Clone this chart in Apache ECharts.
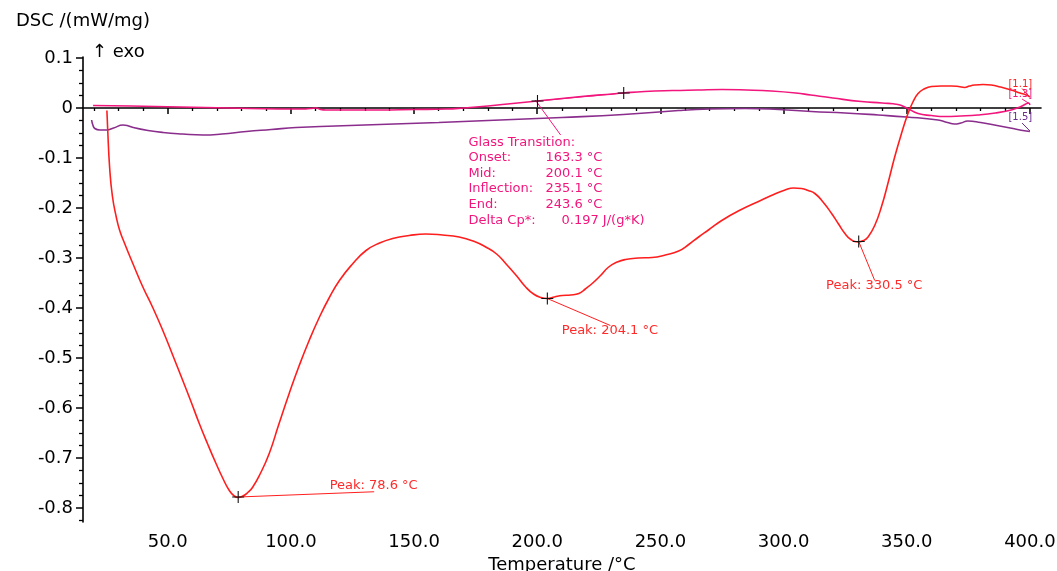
<!DOCTYPE html>
<html><head><meta charset="utf-8">
<script src="https://cdn.jsdelivr.net/npm/echarts@6/dist/echarts.min.js"></script>
<style>html,body{margin:0;padding:0;background:#fff}#c{width:1057px;height:571px}</style>
</head><body><div id="c"></div>
<script>
// ---- data (temperature °C, DSC mW/mg) ----
const redCurve = [
 [25.3,-0.005],[25.6,-0.04],[26.4,-0.118],[27.5,-0.175],[29.1,-0.218],[30.5,-0.245],[32.5,-0.271],
 [36,-0.313],[39.9,-0.358],[44,-0.400],[48.0,-0.445],[52,-0.494],[56.1,-0.545],[59.5,-0.588],
 [62.8,-0.631],[66.2,-0.672],[69.6,-0.711],[72.5,-0.742],[75.0,-0.765],[77,-0.776],[78.6,-0.779],
 [80.5,-0.776],[82.5,-0.769],[84.4,-0.759],[87.5,-0.732],[91.2,-0.691],[95,-0.634],[99.3,-0.571],
 [103.3,-0.516],[107.4,-0.465],[111.6,-0.418],[115.5,-0.380],[119.7,-0.345],[125,-0.312],[130.5,-0.285],
 [136,-0.270],[141.3,-0.261],[148,-0.255],[154.8,-0.252],[161.5,-0.254],[168.3,-0.258],[174,-0.266],
 [179.1,-0.278],[183.5,-0.292],[187.2,-0.311],[191.5,-0.335],[195.3,-0.358],[198.5,-0.372],[201.5,-0.379],
 [204.1,-0.381],[207,-0.378],[210.1,-0.375],[213.5,-0.374],[216.9,-0.371],[219.5,-0.362],[222.3,-0.351],
 [225.5,-0.336],[229.0,-0.318],[232.5,-0.308],[235.8,-0.303],[241,-0.300],[246.6,-0.299],[252,-0.294],
 [257.4,-0.286],[261.5,-0.273],[265.5,-0.258],[269.5,-0.244],[274.9,-0.225],[282,-0.205],[291.1,-0.184],
 [296,-0.173],[300.6,-0.164],[304,-0.160],[307.3,-0.161],[310,-0.165],[312.7,-0.171],[316,-0.188],
 [319.5,-0.211],[322.3,-0.232],[324.9,-0.251],[327.3,-0.263],[330.0,-0.268],[332.5,-0.265],[334.3,-0.258],
 [337,-0.235],[339.7,-0.198],[342.4,-0.150],[345.1,-0.098],[347.8,-0.052],[350.5,-0.011],[352.5,0.012],
 [354.6,0.029],[357,0.038],[360,0.043],[364,0.044],[368.1,0.044],[371,0.043],[373.5,0.041],[375.5,0.044],
 [377.5,0.046],[381,0.047],[384.3,0.046],[388,0.042],[392.4,0.036],[396,0.030],[398.5,0.026],[400,0.022]
];
const pinkCurve = [
 [19.7,0.005],[35,0.004],[55,0.002],[75,0.0],[95,-0.002],[105,-0.002],[108,-0.001],[110.2,0.0],
 [112,-0.003],[114.3,-0.004],[125,-0.004],[136,-0.004],[150,-0.003],[163,-0.002],[170,0.0],[180,0.004],
 [190,0.009],[200.1,0.014],[210,0.019],[220,0.024],[228,0.027],[235.1,0.030],[243.6,0.033],[255,0.035],
 [265,0.036],[275,0.037],[285,0.036],[295,0.034],[305,0.030],[311,0.026],[320,0.020],[331.6,0.013],
 [340,0.010],[346.4,0.007],[350,0.0],[354.6,-0.011],[360,-0.015],[365.4,-0.017],[372,-0.016],
 [378.9,-0.014],[386,-0.010],[392.4,-0.004],[396,0.002],[398.3,0.008],[399.5,0.010],[400,0.006]
];
const purpleCurve = [
 [19.1,-0.024],[19.6,-0.034],[20.4,-0.041],[22.5,-0.044],[25.2,-0.044],[28,-0.040],[31.9,-0.034],
 [33.5,-0.035],[36,-0.039],[42,-0.045],[48.1,-0.049],[56,-0.052],[64.3,-0.054],[72,-0.052],[81.9,-0.047],
 [92,-0.043],[102.1,-0.039],[118,-0.036],[135.9,-0.033],[160,-0.029],[185,-0.024],[210,-0.019],
 [235,-0.013],[257.4,-0.005],[270,-0.002],[284.4,-0.001],[298,-0.003],[311.3,-0.007],[325,-0.010],
 [338.4,-0.014],[350,-0.018],[362.7,-0.024],[366.5,-0.029],[369.4,-0.032],[372,-0.030],[374.8,-0.026],
 [380,-0.029],[385.6,-0.034],[392,-0.040],[398.5,-0.046],[400,-0.047]
];
const xMajorTicks = [50,100,150,200,250,300,350,400];
const xMinorTicks = [20,30,40,60,70,80,90,110,120,130,140,160,170,180,190,210,220,230,240,260,270,280,290,310,320,330,340,360,370,380,390];
const yMajorTicks = [-0.8,-0.7,-0.6,-0.5,-0.4,-0.3,-0.2,-0.1,0,0.1];
const yMinorTicks = [];
for (let i = -33; i <= 4; i++) { if (i % 4 !== 0) yMinorTicks.push(i * 0.025); }

// annotations: cross position, leader end, label text
const peakMarks = [
 {at:[78.6,-0.778], end:[133.8,-0.7675], text:'Peak: 78.6 °C', anchor:'bottom'},
 {at:[204.1,-0.381], end:[229.7,-0.435], text:'Peak: 204.1 °C', anchor:'top'},
 {at:[330.5,-0.267], end:[337.0,-0.345], text:'Peak: 330.5 °C', anchor:'top'}
];
const glassMarks = [[200.1,0.014],[235.1,0.030]];
const glassLeader = [[199.2,0.016],[209.5,-0.054]];
const glassTextAt = [172.3,-0.054];
const glassRows = [['Onset:','163.3 °C'],['Mid:','200.1 °C'],['Inflection:','235.1 °C'],['End:','243.6 °C']];
const glassDelta = ['Delta Cp*:','0.197 J/(g*K)'];
const curveTags = [
 {text:'[1.1]', at:[396.3,0.047], lead:[[396.8,0.039],[400,0.022]]},
 {text:'[1.3]', at:[396.3,0.026], lead:[[396.8,0.018],[400,0.008]]},
 {text:'[1.5]', at:[396.3,-0.020], lead:[[396.8,-0.030],[400,-0.046]]}
];

const RED = '#ff1e1e', PINK = '#f2157c', PURPLE = '#8a2d8c';
const FONT = 'DejaVu Sans';
const CROSS = 'path://M0,4.55H10V5.45H0Z M4.55,0H5.45V10H4.55Z';

function cross(c){ return {coord:c, symbol:CROSS, symbolSize:12, itemStyle:{color:'#111'}, label:{show:false}}; }
function textPt(c, text, color, opts){
  return Object.assign({coord:c, symbol:'circle', symbolSize:1, itemStyle:{color:'rgba(0,0,0,0)'},
    label:Object.assign({show:true, formatter:text, color:color, fontFamily:FONT, fontSize:13}, opts)});
}
function seg(a,b,color){ return [{coord:a, lineStyle:{color:color,width:1,type:'solid'}},{coord:b}]; }

const glassText = ['{h|Glass Transition:}']
  .concat(glassRows.map(r => '{k|' + r[0] + '}{v|' + r[1] + '}'))
  .concat(['{k2|' + glassDelta[0] + '}{v|' + glassDelta[1] + '}']).join('\n');

const redMarkPts = peakMarks.map(p => cross(p.at)).concat(peakMarks.map(p =>
  textPt(p.end, p.text, '#ff2a2a', {position:[0, p.anchor==='bottom'?1:-1], align:'center', verticalAlign:p.anchor==='bottom'?'bottom':'top'})));
redMarkPts.push(textPt(curveTags[0].at, curveTags[0].text, RED, {position:[0,0], align:'center', verticalAlign:'middle', fontSize:10}));

const pinkMarkPts = glassMarks.map(cross);
pinkMarkPts.push(textPt(glassTextAt, glassText, PINK, {position:[0,0], align:'left', verticalAlign:'top', lineHeight:15.6,
  rich:{h:{color:PINK,fontFamily:FONT,fontSize:13,lineHeight:15.6},
        k:{color:PINK,fontFamily:FONT,fontSize:13,width:77,lineHeight:15.6},
        k2:{color:PINK,fontFamily:FONT,fontSize:13,width:93,lineHeight:15.6},
        v:{color:PINK,fontFamily:FONT,fontSize:13,lineHeight:15.6}}}));
pinkMarkPts.push(textPt(curveTags[1].at, curveTags[1].text, PINK, {position:[0,0], align:'center', verticalAlign:'middle', fontSize:10}));

const purpleMarkPts = [textPt(curveTags[2].at, curveTags[2].text, '#6b2d8c', {position:[0,0], align:'center', verticalAlign:'middle', fontSize:10})];

const chart = echarts.init(document.getElementById('c'), null, {renderer:'canvas'});
const xCommon = {type:'value', min:15.6, max:404.5, position:'bottom', splitLine:{show:false}};
const yCommon = {type:'value', min:-0.828, max:0.102, position:'left', splitLine:{show:false}};
chart.setOption({
  animation:false,
  backgroundColor:'#fff',
  textStyle:{fontFamily:FONT},
  grid:{left:83, right:16, top:57, bottom:49, containLabel:false, outerBoundsMode:'none'},
  xAxis:[
    Object.assign({}, xCommon, {
      name:'Temperature /°C', nameLocation:'middle', nameGap:30,
      nameTextStyle:{color:'#000', fontFamily:FONT, fontSize:18},
      axisLine:{show:true, lineStyle:{color:'#000', width:1.6}},
      axisTick:{show:true, customValues:xMajorTicks, length:6, inside:false, lineStyle:{color:'#000', width:1.5}},
      axisLabel:{customValues:xMajorTicks, color:'#000', fontFamily:FONT, fontSize:18, margin:11, formatter:v => v.toFixed(1)}
    }),
    Object.assign({}, xCommon, {
      axisLine:{show:false},
      axisTick:{show:true, customValues:xMinorTicks, length:3, lineStyle:{color:'#000', width:1.3}},
      axisLabel:{show:false}
    })
  ],
  yAxis:[
    Object.assign({}, yCommon, {
      name:'DSC /(mW/mg)', nameLocation:'end', nameGap:27,
      nameTextStyle:{color:'#000', fontFamily:FONT, fontSize:18, align:'center'},
      axisLine:{show:true, lineStyle:{color:'#000', width:1.6}},
      axisTick:{show:true, customValues:yMajorTicks, length:7, lineStyle:{color:'#000', width:1.5}},
      axisLabel:{customValues:yMajorTicks, color:'#000', fontFamily:FONT, fontSize:18, margin:10,
        formatter:v => Math.abs(v) < 1e-9 ? '0' : v.toFixed(1)}
    }),
    Object.assign({}, yCommon, {
      axisLine:{show:false},
      axisTick:{show:true, customValues:yMinorTicks, length:4, lineStyle:{color:'#000', width:1.3}},
      axisLabel:{show:false}
    })
  ],
  graphic:[
    {type:'text', left:92, top:43, style:{text:'{a|↑} exo', fontFamily:FONT, fontSize:18, fill:'#000',
      rich:{a:{fontFamily:FONT, fontSize:18, color:'#8c7b6e'}}}}
  ],
  series:[
    {type:'line', name:'[1.5]', data:purpleCurve, showSymbol:false, smooth:0.5, sampling:null,
      lineStyle:{color:PURPLE, width:1.6}, itemStyle:{color:PURPLE}, z:2,
      markPoint:{silent:true, data:purpleMarkPts},
      markLine:{silent:true, symbol:['none','none'], label:{show:false}, data:[seg(curveTags[2].lead[0], curveTags[2].lead[1], '#6b2d8c')]}},
    {type:'line', name:'[1.3]', data:pinkCurve, showSymbol:false, smooth:0.5,
      lineStyle:{color:PINK, width:1.6}, itemStyle:{color:PINK}, z:3,
      markPoint:{silent:true, data:pinkMarkPts},
      markLine:{silent:true, symbol:['none','none'], label:{show:false},
        data:[seg(glassLeader[0], glassLeader[1], PINK), seg(glassMarks[0], glassMarks[1], PINK), seg(curveTags[1].lead[0], curveTags[1].lead[1], PINK)]}},
    {type:'line', name:'[1.1]', data:redCurve, showSymbol:false, smooth:0.5,
      lineStyle:{color:RED, width:1.6}, itemStyle:{color:RED}, z:4,
      markPoint:{silent:true, data:redMarkPts},
      markLine:{silent:true, symbol:['none','none'], label:{show:false},
        data:peakMarks.map(p => seg(p.at, p.end, RED)).concat([seg(curveTags[0].lead[0], curveTags[0].lead[1], RED)])}}
  ]
});
</script></body></html>
